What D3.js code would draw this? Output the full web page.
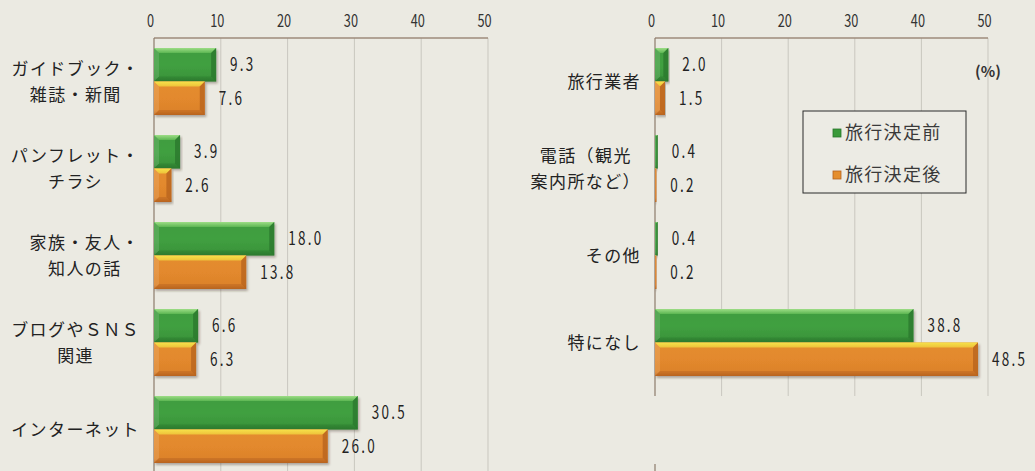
<!DOCTYPE html>
<html lang="ja">
<head>
<meta charset="utf-8">
<script src="https://cdn.jsdelivr.net/npm/d3@7"></script>
<style>
  html, body { margin: 0; padding: 0; background: #ebeae2; }
  svg { display: block; }
  text { font-family: "Noto Sans CJK JP", "Noto Sans", sans-serif; fill: #222; }
</style>
</head>
<body>
<svg id="chart" width="1035" height="471"></svg>
<script>
// 情報源ごとの割合（%）
const seriesNames = ["旅行決定前", "旅行決定後"];
const tickValues = [0, 10, 20, 30, 40, 50];

const leftCategories = ["ガイドブック・\n雑誌・新聞", "パンフレット・\nチラシ", "家族・友人・\n知人の話", "ブログやＳＮＳ\n関連", "インターネット"];
const leftBefore = [9.3, 3.9, 18.0, 6.6, 30.5];
const leftAfter  = [7.6, 2.6, 13.8, 6.3, 26.0];

const rightCategories = ["旅行業者", "電話（観光\n案内所など）", "その他", "特になし"];
const rightBefore = [2.0, 0.4, 0.4, 38.8];
const rightAfter  = [1.5, 0.2, 0.2, 48.5];

const unitLabel = "(%)";

const svg = d3.select("#chart");
const fmt = d3.format(".1f");
const slotCount = 5;

// gradients and shadow
const defs = svg.append("defs");
function grad(id, stops) {
  const g = defs.append("linearGradient").attr("id", id)
    .attr("x1", 0).attr("y1", 0).attr("x2", 0).attr("y2", 1);
  stops.forEach(([o, c]) => g.append("stop").attr("offset", o).attr("stop-color", c));
}
grad("gGreen", [["0%", "#3f9c3f"], ["50%", "#41a041"], ["88%", "#3a953a"], ["100%", "#2d7c2f"]]);
grad("gOrange", [["0%", "#e48d2f"], ["50%", "#e3892d"], ["88%", "#dc822b"], ["100%", "#b9661f"]]);
grad("hGreen", [["0%", "#9ddd86"], ["100%", "#5cb652"]]);
grad("hOrange", [["0%", "#f6e24a"], ["100%", "#eec23a"]]);
const sh = defs.append("filter").attr("id", "shadow")
  .attr("x", "-5%").attr("y", "-20%").attr("width", "115%").attr("height", "160%");
sh.append("feDropShadow").attr("dx", 1.5).attr("dy", 2).attr("stdDeviation", 1.2)
  .attr("flood-color", "#3a2a1a").attr("flood-opacity", 0.35);

const palette = [
  { body: "url(#gGreen)", hi: "url(#hGreen)", edge: "#2a762c", square: "#3a9a3a" },
  { body: "url(#gOrange)", hi: "url(#hOrange)", edge: "#b5621e", square: "#e58e2e" }
];

function drawPanel(cfg) {
  const { cats, before, after, xRange, gridBottom, labelGap } = cfg;
  const x = d3.scaleLinear().domain([0, 50]).range(xRange);
  const y = d3.scaleBand().domain(d3.range(slotCount)).range([38, 473])
    .paddingInner(0.23).paddingOuter(0.115);
  const ySub = d3.scaleBand().domain([0, 1]).range([0, y.bandwidth()]);
  const g = svg.append("g");

  // vertical gridlines
  g.selectAll("line.grid").data(tickValues.slice(1)).join("line")
    .attr("x1", d => x(d)).attr("x2", d => x(d))
    .attr("y1", 38).attr("y2", gridBottom)
    .attr("stroke", "#c9c7bf").attr("stroke-width", 1);

  // top frame line and value axis line
  g.append("line").attr("x1", x(0)).attr("x2", x(50)).attr("y1", 38).attr("y2", 38)
    .attr("stroke", "#9e8b7b").attr("stroke-width", 1.6);
  g.append("line").attr("x1", x(0)).attr("x2", x(0)).attr("y1", 38).attr("y2", gridBottom)
    .attr("stroke", "#8c7b6c").attr("stroke-width", 1.2);

  // tick labels on top
  g.selectAll("text.tick").data(tickValues).join("text")
    .attr("transform", d => `translate(${x(d) - 3.5},21) scale(0.75,1)`)
    .attr("text-anchor", "middle").attr("dy", "0.35em")
    .style("font-size", "17px").style("fill", "#333")
    .text(d => d);

  // bars
  const rows = [];
  cats.forEach((c, i) => {
    rows.push({ i, s: 0, v: before[i] });
    rows.push({ i, s: 1, v: after[i] });
  });
  const bars = g.selectAll("g.bar").data(rows).join("g")
    .attr("transform", d => `translate(${x(0)},${y(d.i) + ySub(d.s)})`);
  const h = ySub.bandwidth();
  bars.each(function (d) {
    const w = x(d.v) - x(0);
    const b = Math.min(5, w / 2);
    const sel = d3.select(this);
    const p = palette[d.s];
    sel.append("rect").attr("width", w).attr("height", h)
      .attr("fill", p.body).attr("filter", "url(#shadow)");
    // top bevel
    sel.append("path")
      .attr("d", `M0,0 H${w} L${w - b},${b} H${b} Z`).attr("fill", p.hi);
    // right and bottom bevel
    sel.append("path")
      .attr("d", `M${w},0 V${h} L${w - b},${h - b} V${b} Z`).attr("fill", p.edge).attr("opacity", 0.75);
    sel.append("path")
      .attr("d", `M0,${h} H${w} L${w - b},${h - b} H${b} Z`).attr("fill", p.edge).attr("opacity", 0.45);
    sel.append("path")
      .attr("d", `M0,0 V${h} L${b},${h - b} V${b} Z`).attr("fill", "#ffffff").attr("opacity", 0.12);
  });

  // value labels
  g.selectAll("text.val").data(rows).join("text")
    .attr("transform", d => `translate(${x(d.v) + 14},${y(d.i) + ySub(d.s) + h / 2}) scale(0.75,1)`)
    .attr("dy", "0.36em")
    .style("font-size", "18px").style("letter-spacing", "3px").style("fill", "#222")
    .text(d => fmt(d.v));

  // category labels: block right-aligned to the axis, lines centered within it
  const right = x(0) - labelGap;
  cats.forEach((c, i) => {
    const lines = c.split("\n");
    const cy = y(i) + y.bandwidth() / 2;
    const step = 26;
    const t = g.append("g");
    const texts = lines.map((ln, k) => t.append("text")
      .attr("y", cy + (k - (lines.length - 1) / 2) * step)
      .attr("dy", "0.36em")
      .style("font-size", "17px").style("letter-spacing", "1.4px")
      .text(ln));
    const widths = texts.map(tx => tx.node().getComputedTextLength());
    const bw = d3.max(widths);
    texts.forEach(tx => tx.attr("x", right - bw / 2).attr("text-anchor", "middle"));
  });
  return x;
}

drawPanel({ cats: leftCategories, before: leftBefore, after: leftAfter,
  xRange: [154, 488], gridBottom: 471, labelGap: 14 });
const xr = drawPanel({ cats: rightCategories, before: rightBefore, after: rightAfter,
  xRange: [655, 988], gridBottom: 396, labelGap: 14 });

// short axis stub at the foot of the right panel
svg.append("line").attr("x1", xr(0)).attr("x2", xr(0)).attr("y1", 464).attr("y2", 471)
  .attr("stroke", "#8c7b6c").attr("stroke-width", 1.2);

// unit label
svg.append("text").attr("x", xr(50)).attr("y", 72).attr("dy", "0.36em")
  .attr("text-anchor", "middle").style("font-size", "15px").style("font-weight", 700)
  .style("fill", "#333").text(unitLabel);

// legend
const lg = svg.append("g").attr("transform", "translate(803,111)");
lg.append("rect").attr("width", 163).attr("height", 82)
  .attr("fill", "#ecebe4").attr("stroke", "#2a2a2a").attr("stroke-width", 1);
const items = lg.selectAll("g.item").data(seriesNames).join("g")
  .attr("transform", (d, i) => `translate(30,${22 + i * 42})`);
items.append("rect").attr("x", 0).attr("y", -4).attr("width", 8).attr("height", 8)
  .attr("fill", (d, i) => palette[i].square).attr("stroke", (d, i) => palette[i].edge).attr("stroke-width", 0.8);
items.append("text").attr("x", 12).attr("dy", "0.36em")
  .style("font-size", "18px").style("letter-spacing", "1.3px").style("fill", "#3a3a3a")
  .text(d => d);
</script>
</body>
</html>
